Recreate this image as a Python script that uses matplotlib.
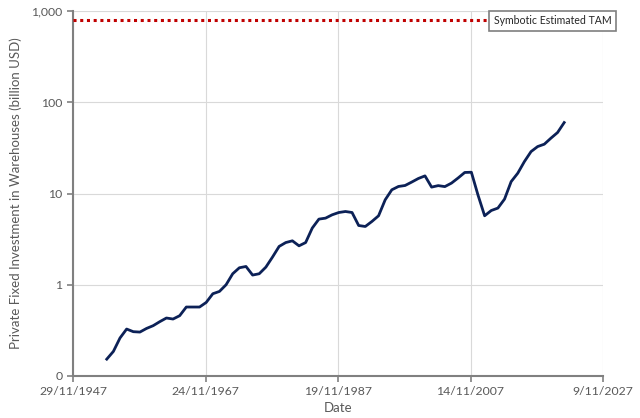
import matplotlib
matplotlib.use("Agg")
import matplotlib.pyplot as plt
import datetime as dt

years = list(range(1953, 2023))
values = [0.153, 0.186, 0.261, 0.327, 0.306, 0.303, 0.332, 0.356, 0.394, 0.432,
          0.421, 0.458, 0.570, 0.570, 0.570, 0.640, 0.797, 0.845, 1.00, 1.32,
          1.535, 1.586, 1.277, 1.32, 1.56, 2.01, 2.63, 2.90, 3.03, 2.67,
          2.90, 4.18, 5.24, 5.37, 5.84, 6.19, 6.35, 6.19, 4.46, 4.35,
          4.94, 5.70, 8.53, 10.98, 11.94, 12.24, 13.34, 14.6, 15.6, 11.75,
          12.2, 11.9, 13.0, 14.8, 17.0, 17.1, 9.6, 5.70, 6.51, 6.92,
          8.68, 13.5, 16.7, 22.4, 28.8, 32.7, 34.7, 40.4, 46.6, 59.9]
tam_value = 800
tam_label = "Symbotic Estimated TAM"
x_ticks = [dt.date(1947, 11, 29), dt.date(1967, 11, 24), dt.date(1987, 11, 19),
           dt.date(2007, 11, 14), dt.date(2027, 11, 9)]
x_tick_labels = ["29/11/1947", "24/11/1967", "19/11/1987", "14/11/2007", "9/11/2027"]
y_ticks = [0.1, 1, 10, 100, 1000]
y_tick_labels = ["0", "1", "10", "100", "1,000"]

plt.rcParams['font.family'] = ['Lato', 'DejaVu Sans']
grey = "#595959"

fig = plt.figure(figsize=(6.4, 4.18), dpi=100)
ax = fig.add_axes([73/640, 1-376/418, (603-73)/640, (376-11)/418])

dates = [dt.date(y, 1, 1) for y in years]
ax.plot(dates, values, color="#0c2157", lw=2.0, solid_joinstyle="round", zorder=3)
ax.plot([x_ticks[0], x_ticks[-1]], [tam_value, tam_value], color="#c00000",
        lw=2.2, linestyle=(0, (1, 1.2)), zorder=3)

ax.set_yscale("log")
ax.set_ylim(0.1, 1000)
ax.set_xlim(x_ticks[0], x_ticks[-1])
ax.set_yticks(y_ticks)
ax.set_yticklabels(y_tick_labels)
ax.yaxis.set_minor_locator(matplotlib.ticker.NullLocator())
ax.set_xticks(x_ticks)
ax.set_xticklabels(x_tick_labels)

ax.grid(True, color="#d9d9d9", lw=0.8, zorder=0)
for s in ["top", "right"]:
    ax.spines[s].set_visible(False)
for s in ["left", "bottom"]:
    ax.spines[s].set_color("#808080")
    ax.spines[s].set_linewidth(1.5)
ax.tick_params(axis="both", colors="#808080", labelcolor=grey, labelsize=8.8,
               length=4, width=1.2, direction="out")

ax.set_xlabel("Date", color=grey, fontsize=9.5, labelpad=3)
ax.set_ylabel("Private Fixed Investment in Warehouses (billion USD)", color=grey,
              fontsize=9.5, labelpad=7)

ax.text(0.905, 0.973, tam_label, transform=ax.transAxes, ha="center", va="center",
        fontsize=7.6, color="#262626", zorder=5,
        bbox=dict(boxstyle="square,pad=0.45", fc="white", ec="#7f7f7f", lw=1.2))

fig.savefig("out.png", dpi=100)
